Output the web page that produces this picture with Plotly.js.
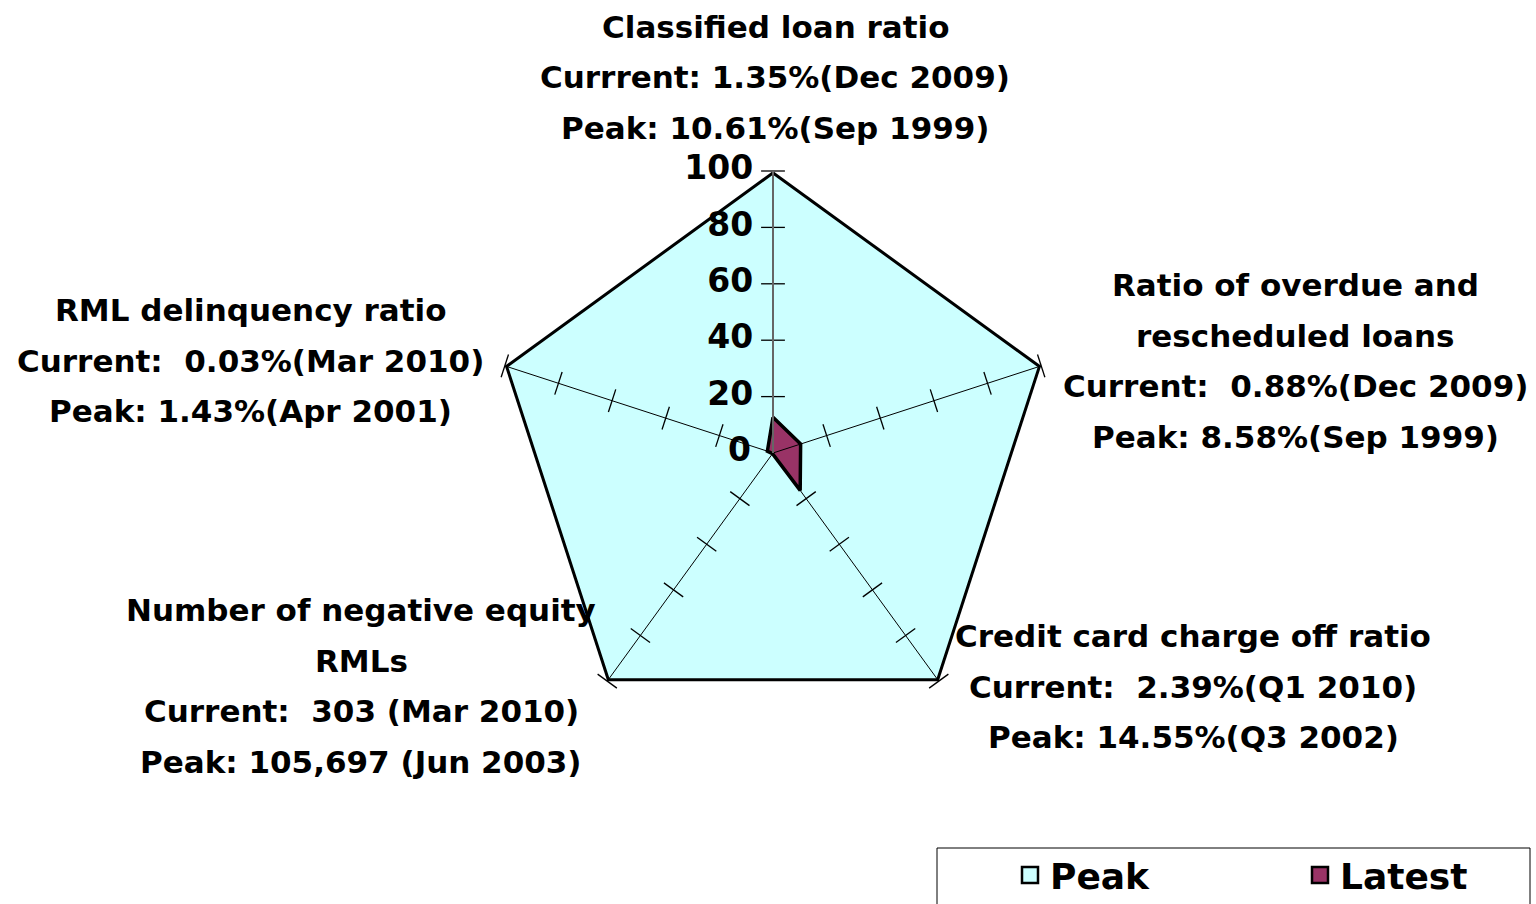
<!DOCTYPE html>
<html>
<head>
<meta charset="utf-8">
<script src="https://cdn.plot.ly/plotly-3.0.1.min.js"></script>
<style>
html, body { margin: 0; padding: 0; background: #fff; overflow: hidden; }
#plot { width: 1536px; height: 904px; }
</style>
</head>
<body>
<div id="plot"></div>
<script>
// Data
var categories = [
  "Classified loan ratio",
  "Ratio of overdue and rescheduled loans",
  "Credit card charge off ratio",
  "Number of negative equity RMLs",
  "RML delinquency ratio"
];
var peakValues = [100, 100, 100, 100, 100];
var latestValues = [12.7, 10.3, 16.4, 0.3, 2.1];
var tickValues = [0, 20, 40, 60, 80, 100];

var labelLines = [
  ["Classified loan ratio", "Currrent: 1.35%(Dec 2009)", "Peak: 10.61%(Sep 1999)"],
  ["Ratio of overdue and", "rescheduled loans", "Current:  0.88%(Dec 2009)", "Peak: 8.58%(Sep 1999)"],
  ["Credit card charge off ratio", "Current:  2.39%(Q1 2010)", "Peak: 14.55%(Q3 2002)"],
  ["Number of negative equity", "RMLs", "Current:  303 (Mar 2010)", "Peak: 105,697 (Jun 2003)"],
  ["RML delinquency ratio", "Current:  0.03%(Mar 2010)", "Peak: 1.43%(Apr 2001)"]
];

// where each label block sits (px): centre x, first line y
var labelX = [775, 1295, 1193, 361, 250];
var labelY = [27, 285, 636, 610, 310];
var lineGap = 50.5;

var W = 1536, H = 904;
var font = "DejaVu Sans, Arial, sans-serif";

function closed(a) { return a.concat([a[0]]); }

var peak = {
  type: "scatterpolar",
  r: closed(peakValues),
  theta: closed(categories),
  mode: "lines",
  fill: "toself",
  fillcolor: "#CCFFFF",
  line: { color: "#000", width: 6 },
  cliponaxis: false,
  showlegend: false,
  hoverinfo: "skip"
};

var latest = {
  type: "scatterpolar",
  r: closed(latestValues),
  theta: closed(categories),
  mode: "lines",
  fill: "toself",
  fillcolor: "#993366",
  line: { color: "#000", width: 3.5 },
  cliponaxis: false,
  showlegend: false,
  hoverinfo: "skip"
};

// spokes, drawn over the fills
var sr = [], st = [];
categories.forEach(function (c) {
  sr.push(0, 100, null); st.push(c, c, null);
});
var spokes = {
  type: "scatterpolar",
  r: sr, theta: st,
  mode: "lines",
  connectgaps: false,
  line: { color: "#000", width: 1 },
  cliponaxis: false,
  showlegend: false,
  hoverinfo: "skip"
};

// tick marks across every spoke
var tr = [], tt = [], ta = [];
categories.forEach(function (c, i) {
  tickValues.slice(1).forEach(function (v) {
    tr.push(v); tt.push(c); ta.push(i * 72);
  });
});
var spokeTicks = {
  type: "scatterpolar",
  r: tr, theta: tt,
  mode: "markers",
  marker: { symbol: "line-ew", size: 17, angle: ta, color: "#000", line: { color: "#000", width: 1.3 } },
  cliponaxis: false,
  showlegend: false,
  hoverinfo: "skip"
};

// value labels along the top spoke (the 0 at the centre is an annotation)
var upper = tickValues.slice(1);
var scaleLabels = {
  type: "scatterpolar",
  r: upper,
  theta: upper.map(function () { return categories[0]; }),
  mode: "markers+text",
  text: upper.map(String),
  textposition: "middle left",
  marker: { size: 30, color: "rgba(0,0,0,0)" },
  textfont: { family: font, size: 33, weight: "bold", color: "#000" },
  cliponaxis: false,
  showlegend: false,
  hoverinfo: "skip"
};

// legend entries
var legPeak = {
  type: "scatterpolar", r: [null], theta: [null], mode: "markers", name: "Peak",
  marker: { symbol: "square", size: 16, color: "#CCFFFF", line: { color: "#000", width: 2.5 } }
};
var legLatest = {
  type: "scatterpolar", r: [null], theta: [null], mode: "markers", name: "Latest",
  marker: { symbol: "square", size: 16, color: "#993366", line: { color: "#000", width: 2.5 } }
};

var annotations = [];
labelLines.forEach(function (lines, i) {
  lines.forEach(function (t, j) {
    annotations.push({
      text: t,
      xref: "paper", yref: "paper",
      x: labelX[i] / W,
      y: 1 - (labelY[i] + j * lineGap) / H,
      xanchor: "center", yanchor: "middle",
      showarrow: false,
      font: { family: font, size: 31, weight: "bold", color: "#000" }
    });
  });
});
annotations.push({
  text: String(tickValues[0]),
  xref: "paper", yref: "paper",
  x: 753 / W, y: 1 - 450 / H,
  xanchor: "right", yanchor: "middle",
  showarrow: false,
  font: { family: font, size: 33, weight: "bold", color: "#000" }
});

var layout = {
  width: W, height: H,
  margin: { l: 0, r: 0, t: 0, b: 0, autoexpand: false },
  paper_bgcolor: "#fff",
  showlegend: true,
  polar: {
    domain: { x: [491 / W, 1055 / W], y: [1 - 735 / H, 1 - 171 / H] },
    gridshape: "linear",
    bgcolor: "#fff",
    radialaxis: {
      range: [0, 100],
      angle: 90,
      tickvals: tickValues,
      ticks: "",
      showticklabels: false,
      showline: true,
      linecolor: "#666",
      linewidth: 2,
      showgrid: false
    },
    angularaxis: {
      rotation: 90,
      direction: "clockwise",
      showgrid: false,
      showline: false,
      ticks: "",
      showticklabels: false
    }
  },
  legend: {
    orientation: "h",
    x: 1010 / W, xanchor: "left",
    y: 1 - 845 / H, yanchor: "top",
    bgcolor: "rgba(0,0,0,0)",
    entrywidth: 245,
    font: { family: font, size: 36, weight: "bold", color: "#000" }
  },
  shapes: [{
    type: "rect", xref: "paper", yref: "paper",
    x0: 937 / W, x1: 1530 / W, y0: -0.05, y1: 1 - 848 / H,
    line: { color: "#000", width: 1 }, fillcolor: "rgba(0,0,0,0)", layer: "below"
  }],
  annotations: annotations
};

Plotly.newPlot("plot", [peak, latest, spokes, spokeTicks, scaleLabels, legPeak, legLatest], layout, { displayModeBar: false });
</script>
</body>
</html>
